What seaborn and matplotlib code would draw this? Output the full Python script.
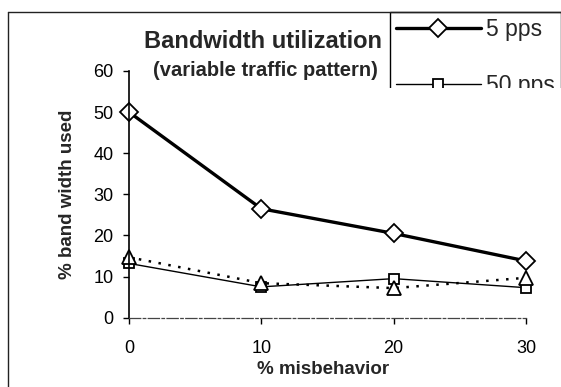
import matplotlib
matplotlib.use("Agg")
import matplotlib.pyplot as plt
import seaborn as sns
import pandas as pd
from matplotlib.lines import Line2D
from matplotlib.patches import Rectangle

misbehavior = [0, 10, 20, 30]
pps5 = [50.0, 26.5, 20.5, 13.8]
pps50 = [13.2, 7.5, 9.5, 7.3]
pps500 = [14.7, 8.4, 7.2, 9.7]
series_labels = ["5 pps", "50 pps", "500 pps"]
y_ticks = [0, 10, 20, 30, 40, 50, 60]
x_ticks = [0, 10, 20, 30]

sns.set_style("white")
plt.rcParams["font.family"] = ["Liberation Sans", "DejaVu Sans"]

W, H = 561, 387
fig = plt.figure(figsize=(W / 100, H / 100), dpi=100)
ax = fig.add_axes([129 / W, 1 - 317.7 / H, (526 - 129) / W, (317.7 - 71) / H])

df = pd.DataFrame({
    "x": misbehavior * 3,
    "y": pps5 + pps50 + pps500,
    "s": [series_labels[0]] * 4 + [series_labels[1]] * 4 + [series_labels[2]] * 4,
})

styles = {
    "5 pps": dict(lw=2.4, ls="-", marker="D", ms=9.5),
    "50 pps": dict(lw=1.0, ls="-", marker="s", ms=7.5),
    "500 pps": dict(lw=1.8, ls=(0, (1, 3)), marker="^", ms=10),
}
for lab in series_labels:
    st = styles[lab]
    sub = df[df["s"] == lab]
    sns.lineplot(data=sub, x="x", y="y", ax=ax, color="black", label=lab,
                 lw=st["lw"], linestyle=st["ls"], marker=st["marker"],
                 markersize=st["ms"], markerfacecolor="white",
                 markeredgecolor="black", markeredgewidth=1.3,
                 clip_on=False, legend=False)

ax.set_xlim(0, 30)
ax.set_ylim(0, 60)
ax.set_xticks(x_ticks)
ax.set_yticks(y_ticks)
ax.set_xlabel("")
ax.set_ylabel("")
ax.tick_params(axis="both", labelsize=13, colors="black", length=4, width=1,
               direction="out")
ax.tick_params(axis="x", pad=12)
ax.tick_params(axis="y", pad=7)
ax.xaxis.set_ticks_position("bottom")
ax.yaxis.set_ticks_position("left")
for side in ["top", "right"]:
    ax.spines[side].set_visible(False)
ax.spines["left"].set_color("black")
ax.spines["left"].set_linewidth(1.2)
ax.spines["bottom"].set_color("#444444")
ax.spines["bottom"].set_linewidth(0.9)
ax.spines["bottom"].set_linestyle((0, (9, 2, 2, 2)))
ax.patch.set_alpha(0)

fig.text(382 / W, 1 - 42 / H, "Bandwidth utilization", ha="right", va="center",
         fontsize=17, fontweight="bold")
fig.text(378 / W, 1 - 70 / H, "(variable traffic pattern)", ha="right",
         va="center", fontsize=14.5, fontweight="bold")
fig.text(68 / W, 1 - 194 / H, "% band width used", rotation=90, ha="center",
         va="center", fontsize=13.5, fontweight="bold")
fig.text(323 / W, 1 - 370 / H, "% misbehavior", ha="center", va="center",
         fontsize=13.5, fontweight="bold")

shown = series_labels[:2]
handles = [Line2D([], [], color="black", lw=styles[l]["lw"], ls=styles[l]["ls"],
                  marker=styles[l]["marker"], ms=styles[l]["ms"],
                  markerfacecolor="white", markeredgecolor="black",
                  markeredgewidth=1.3) for l in shown]
leg = ax.legend(handles, shown, loc="upper left",
                bbox_to_anchor=(390 / W, 1 - 12 / H), bbox_transform=fig.transFigure,
                frameon=True, fancybox=False, edgecolor="black", framealpha=1,
                borderaxespad=0, borderpad=0.25, fontsize=16.5, handlelength=3.7,
                handletextpad=0.25, labelspacing=1.45)
leg.get_frame().set_linewidth(1.0)

# legend is cut off below in the reference
fig.add_artist(Rectangle((386 / W, 0.45), 1 - 386 / W, (1 - 88 / H) - 0.45,
                         transform=fig.transFigure, facecolor="white",
                         edgecolor="none", zorder=10))

# outer figure frame (top and left)
fig.add_artist(Line2D([8 / W, 1], [1 - 12 / H, 1 - 12 / H], transform=fig.transFigure,
                      color="#222222", lw=1.0, zorder=11))
fig.add_artist(Line2D([8 / W, 8 / W], [0, 1 - 12 / H], transform=fig.transFigure,
                      color="#222222", lw=1.0, zorder=11))

fig.savefig("out.png", dpi=100)
